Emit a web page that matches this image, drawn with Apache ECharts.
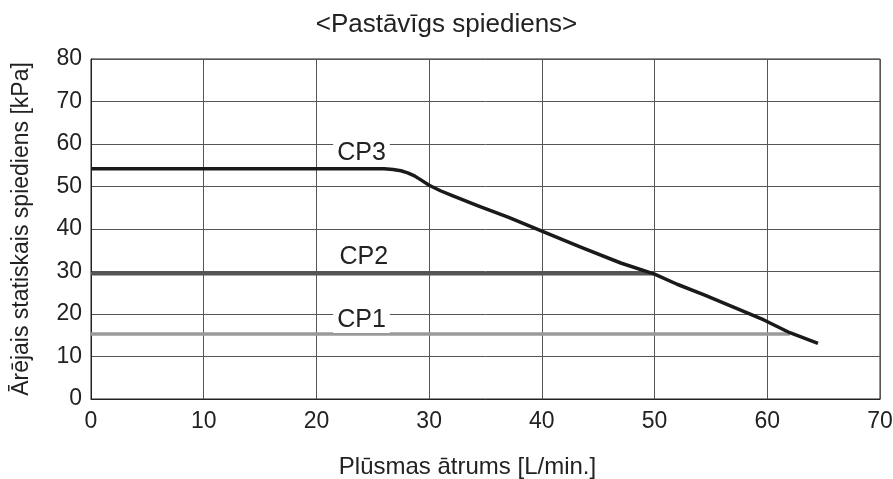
<!DOCTYPE html>
<html>
<head>
<meta charset="utf-8">
<script src="https://cdn.jsdelivr.net/npm/echarts@6/dist/echarts.min.js"></script>
<style>
  html, body { margin: 0; padding: 0; background: #fff; }
  #chart { width: 893px; height: 479px; }
</style>
</head>
<body>
<div id="chart"></div>
<script>
// Pump curves: external static pressure vs. flow rate
const xTicks = [0, 10, 20, 30, 40, 50, 60, 70];
const yTicks = [0, 10, 20, 30, 40, 50, 60, 70, 80];

const cp3Flow =     [0, 10, 20, 25, 26, 26.8, 27.5, 28.1, 28.7, 29.3, 30, 31, 32, 34.4, 37, 40, 43.5, 47, 50, 52, 54.4, 57, 59.7, 62, 64.5];
const cp3Pressure = [54.2, 54.2, 54.2, 54.2, 54.15, 54.0, 53.7, 53.2, 52.5, 51.5, 50.3, 49.0, 47.9, 45.4, 42.8, 39.5, 35.7, 32.0, 29.4, 27.0, 24.5, 21.6, 18.6, 15.6, 13.1];

const cp2Flow =     [0, 50];
const cp2Pressure = [29.5, 29.5];

const cp1Flow =     [0, 62];
const cp1Pressure = [15.3, 15.3];

const curveNames = ['CP3', 'CP2', 'CP1'];
const labelAt = [[24.0, 57.8], [24.2, 33.3], [24.0, 18.5]];

const pairs = (xs, ys) => xs.map((x, i) => [x, ys[i]]);

const FONT = '"Liberation Sans", Arial, sans-serif';

function curve(name, data, color, width, labelCoord) {
  return {
    name: name,
    type: 'line',
    data: data,
    symbol: 'none',
    lineStyle: { color: color, width: width, join: 'round', cap: 'butt' },
    markPoint: {
      symbol: 'circle',
      symbolSize: 0,
      silent: true,
      data: [{ coord: labelCoord }],
      label: {
        show: true,
        position: 'inside',
        formatter: name,
        color: '#222',
        fontSize: 25,
        fontFamily: FONT,
        backgroundColor: '#fff',
        padding: [0, 4]
      }
    }
  };
}

const chart = echarts.init(document.getElementById('chart'), null, { renderer: 'canvas' });
chart.setOption({
  animation: false,
  backgroundColor: '#fff',
  title: {
    text: '<Pastāvīgs spiediens>',
    left: 'center',
    top: 7,
    textStyle: { fontFamily: FONT, fontSize: 26, fontWeight: 'normal', color: '#222' }
  },
  grid: {
    left: 91, right: 13, top: 59, bottom: 80,
    outerBoundsMode: 'none',
    containLabel: false,
    show: true, borderColor: '#222', borderWidth: 1
  },
  xAxis: {
    type: 'value',
    min: xTicks[0], max: xTicks[xTicks.length - 1], interval: 10,
    name: 'Plūsmas ātrums [L/min.]',
    nameLocation: 'middle',
    nameGap: 56,
    nameTextStyle: { fontFamily: FONT, fontSize: 24, color: '#222', padding: [0, 36, 0, 0] },
    axisLine: { show: true, lineStyle: { color: '#222', width: 1 } },
    axisTick: { show: false },
    axisLabel: { fontFamily: FONT, fontSize: 23, color: '#222', margin: 11 },
    splitLine: { show: true, lineStyle: { color: '#555', width: 1 } }
  },
  yAxis: {
    type: 'value',
    min: yTicks[0], max: yTicks[yTicks.length - 1], interval: 10,
    name: 'Ārējais statiskais spiediens [kPa]',
    nameLocation: 'middle',
    nameGap: 58,
    nameTextStyle: { fontFamily: FONT, fontSize: 23, color: '#222' },
    axisLine: { show: true, lineStyle: { color: '#222', width: 1 } },
    axisTick: { show: false },
    axisLabel: { fontFamily: FONT, fontSize: 23, color: '#222', margin: 9 },
    splitLine: { show: true, lineStyle: { color: '#555', width: 1 } }
  },
  series: [
    curve(curveNames[2], pairs(cp1Flow, cp1Pressure), '#9a9a9a', 3.5, labelAt[2]),
    curve(curveNames[1], pairs(cp2Flow, cp2Pressure), '#555555', 3.5, labelAt[1]),
    curve(curveNames[0], pairs(cp3Flow, cp3Pressure), '#1a1a1a', 3.5, labelAt[0])
  ]
});
</script>
</body>
</html>
